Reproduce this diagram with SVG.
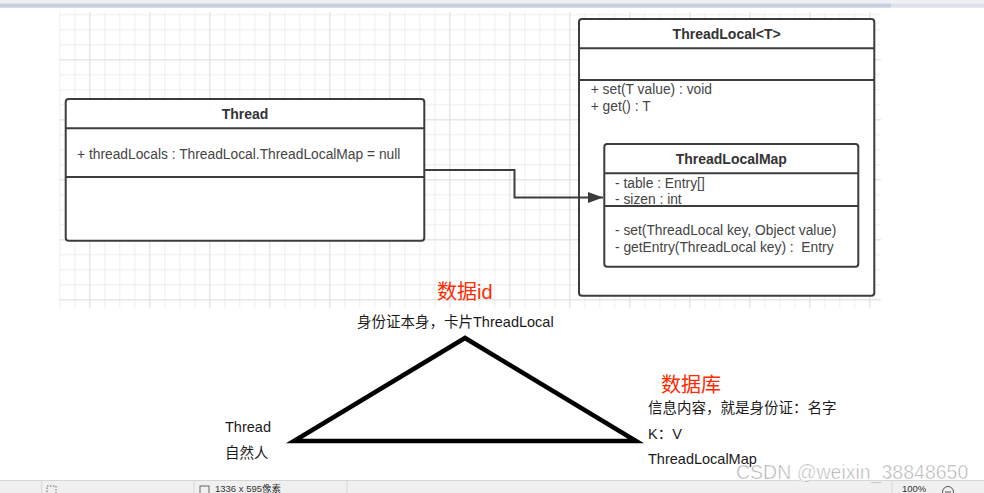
<svg xmlns="http://www.w3.org/2000/svg" width="984" height="493" viewBox="0 0 984 493">
<defs>
<pattern id="gMinor" patternUnits="userSpaceOnUse" x="59.3" y="14.3" width="15" height="15">
<path d="M0.5 0V15M0 0.5H15" fill="none" stroke="#eeeeee" stroke-width="1"/>
</pattern>
<pattern id="gMajor" patternUnits="userSpaceOnUse" x="29.3" y="-0.7" width="60" height="60">
<path d="M0.5 0V60M0 0.5H60" fill="none" stroke="#e2e2e2" stroke-width="1"/>
</pattern>
<marker id="arr" markerWidth="16" markerHeight="12" refX="15" refY="6" orient="auto" markerUnits="userSpaceOnUse">
<path d="M0 0.5L15 6L0 11.5Z" fill="#3c3c3c"/>
</marker>
</defs>
<style>
.box{fill:#ffffff;stroke:#3c3c3c;stroke-width:2}
.div{stroke:#3c3c3c;stroke-width:2}
.title{font-family:"Liberation Sans",Arial,sans-serif;font-size:14px;font-weight:bold;fill:#333333;text-anchor:middle}
.mem{font-family:"Liberation Sans",Arial,sans-serif;font-size:13.8px;fill:#444444;white-space:pre}
.conn{fill:none;stroke:#3c3c3c;stroke-width:2}
.lbl{font-family:"Liberation Sans","Noto Sans CJK SC",sans-serif;font-size:14.5px;fill:#1a1a1a}
.red{font-family:"Liberation Sans","Noto Sans CJK SC",sans-serif;font-size:20px;fill:#ff2a00}
.tri{fill:none;stroke:#000000;stroke-width:4.5;stroke-linejoin:miter}
.sb{font-family:"Liberation Sans","Noto Sans CJK SC",sans-serif;font-size:9.5px;fill:#333333}
.wm{font-family:"Liberation Sans",Arial,sans-serif;font-size:19.5px;fill:#a9a9a9;stroke:#ffffff;stroke-width:0.6}
</style>
<rect x="0" y="0" width="984" height="493" fill="#ffffff"/>
<!-- top bar -->
<rect x="0" y="0" width="984" height="3.5" fill="#eef0f3"/>
<rect x="0" y="3.5" width="891" height="4.2" fill="#c8d0e0"/>
<rect x="891" y="3.5" width="93" height="4.2" fill="#dde2ea"/>
<!-- grid -->
<rect x="59" y="12" width="822" height="296" fill="url(#gMinor)"/>
<rect x="59" y="12" width="822" height="296" fill="url(#gMajor)"/>

<g id="thread">
<rect class="box" x="65.7" y="99" width="358.6" height="141.7" rx="3"/>
<line class="div" x1="65.7" y1="128.3" x2="424.3" y2="128.3"/>
<line class="div" x1="65.7" y1="177" x2="424.3" y2="177"/>
<text class="title" x="245" y="119">Thread</text>
<text class="mem" x="77" y="158.5">+ threadLocals : ThreadLocal.ThreadLocalMap = null</text>
</g>

<g id="threadlocal">
<rect class="box" x="579" y="19" width="295.3" height="276.7" rx="3"/>
<line class="div" x1="579" y1="48.3" x2="874.3" y2="48.3"/>
<line class="div" x1="579" y1="80" x2="874.3" y2="80"/>
<text class="title" x="726.7" y="39.2">ThreadLocal&lt;T&gt;</text>
<text class="mem" x="590.7" y="94">+ set(T value) : void</text>
<text class="mem" x="590.7" y="110.7">+ get() : T</text>
</g>

<g id="threadlocalmap">
<rect class="box" x="604.3" y="144" width="254" height="122.7" rx="3"/>
<line class="div" x1="604.3" y1="173.3" x2="858.3" y2="173.3"/>
<line class="div" x1="604.3" y1="206" x2="858.3" y2="206"/>
<text class="title" x="731.3" y="164.2">ThreadLocalMap</text>
<text class="mem" x="615" y="187.5">- table : Entry[]</text>
<text class="mem" x="615" y="203.5">- sizen : int</text>
<text class="mem" x="615" y="234.8">- set(ThreadLocal key, Object value)</text>
<text class="mem" x="615" y="251.5" xml:space="preserve">- getEntry(ThreadLocal key) :  Entry</text>
</g>

<g id="connectors">
<path class="conn" d="M424 170H514.5V197.5H603" marker-end="url(#arr)"/>
</g>

<g id="triangle">
<path class="tri" d="M465 338L294 441H636Z"/>
</g>

<g id="labels">
<text class="red" x="437" y="299">数据id</text>
<text class="lbl" x="357" y="327">身份证本身，卡片ThreadLocal</text>
<text class="lbl" x="225" y="432">Thread</text>
<text class="lbl" x="225" y="458">自然人</text>
<text class="red" x="661" y="392">数据库</text>
<text class="lbl" x="648" y="413">信息内容，就是身份证：名字</text>
<text class="lbl" x="648" y="439">K：V</text>
<text class="lbl" x="648" y="464">ThreadLocalMap</text>
</g>

<!-- status bar -->
<g id="statusbar">
<rect x="0" y="480" width="984" height="13" fill="#f0f0f0"/>
<line x1="0" y1="480.5" x2="984" y2="480.5" stroke="#d6d6d6"/>
<line x1="41.7" y1="481" x2="41.7" y2="493" stroke="#d6d6d6"/>
<line x1="194" y1="481" x2="194" y2="493" stroke="#d6d6d6"/>
<line x1="347" y1="481" x2="347" y2="493" stroke="#d6d6d6"/>
<line x1="892" y1="481" x2="892" y2="493" stroke="#d6d6d6"/>
<rect x="47" y="486" width="9" height="9" fill="none" stroke="#666666" stroke-dasharray="1.5 1.5"/>
<rect x="200" y="486" width="9" height="9" fill="none" stroke="#666666"/>
<text class="sb" x="215" y="492">1336 x 595像素</text>
<text class="sb" x="902" y="492">100%</text>
<circle cx="948" cy="492" r="5.5" fill="none" stroke="#555555"/>
<line x1="945" y1="492" x2="951" y2="492" stroke="#555555"/>
</g>

<text class="wm" x="736" y="479">CSDN @weixin_38848650</text>
</svg>
